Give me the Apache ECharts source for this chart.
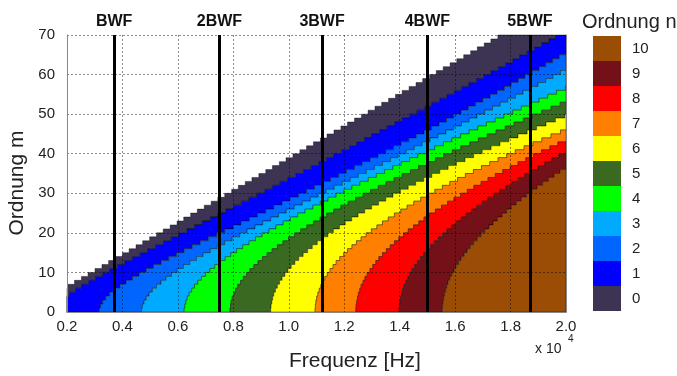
<!DOCTYPE html>
<html>
<head>
<meta charset="utf-8">
<script src="https://cdn.jsdelivr.net/npm/echarts@6/dist/echarts.min.js"></script>
<style>
  html, body { margin: 0; padding: 0; background: #fff; }
  #chart { width: 677px; height: 376px; }
</style>
</head>
<body>
<div id="chart"></div>
<script>
// cut-on frequency (x 10^4 Hz) of radial order n, one value per azimuthal row m = 0, 1, 2, ...
// rows whose cut-on lies beyond 2.0 are left out
const n0 = [0.000, 0.077, 0.104, 0.129, 0.153, 0.178, 0.202, 0.227, 0.252, 0.276, 0.301, 0.326, 0.350, 0.375, 0.400, 0.424, 0.449, 0.473, 0.498, 0.523, 0.547, 0.572, 0.597, 0.621, 0.646, 0.670, 0.695, 0.720, 0.744, 0.769, 0.794, 0.818, 0.843, 0.867, 0.892, 0.917, 0.941, 0.966, 0.990, 1.015, 1.040, 1.064, 1.089, 1.114, 1.138, 1.163, 1.188, 1.212, 1.237, 1.262, 1.286, 1.311, 1.335, 1.360, 1.385, 1.409, 1.434, 1.459, 1.483, 1.508, 1.532, 1.557, 1.582, 1.606, 1.631, 1.656, 1.680, 1.705, 1.729, 1.754];
const n1 = [0.161, 0.166, 0.177, 0.192, 0.210, 0.231, 0.254, 0.278, 0.303, 0.328, 0.355, 0.382, 0.409, 0.436, 0.464, 0.492, 0.520, 0.548, 0.576, 0.604, 0.632, 0.660, 0.688, 0.717, 0.745, 0.773, 0.801, 0.829, 0.857, 0.885, 0.913, 0.941, 0.969, 0.997, 1.025, 1.053, 1.081, 1.108, 1.136, 1.163, 1.191, 1.219, 1.246, 1.273, 1.300, 1.328, 1.355, 1.382, 1.409, 1.436, 1.463, 1.490, 1.517, 1.544, 1.570, 1.597, 1.624, 1.650, 1.677, 1.703, 1.729, 1.756, 1.782, 1.808, 1.834, 1.860, 1.886, 1.912, 1.938, 1.963];
const n2 = [0.317, 0.321, 0.329, 0.340, 0.354, 0.372, 0.391, 0.413, 0.436, 0.460, 0.486, 0.512, 0.539, 0.567, 0.595, 0.623, 0.652, 0.681, 0.710, 0.740, 0.769, 0.799, 0.828, 0.858, 0.887, 0.917, 0.946, 0.976, 1.005, 1.035, 1.064, 1.093, 1.122, 1.151, 1.180, 1.208, 1.237, 1.265, 1.294, 1.322, 1.350, 1.378, 1.405, 1.433, 1.460, 1.488, 1.515, 1.542, 1.569, 1.595, 1.622, 1.648, 1.674, 1.700, 1.726, 1.752, 1.778, 1.803, 1.828, 1.853, 1.878, 1.903, 1.927, 1.952, 1.976];
const n3 = [0.469, 0.472, 0.478, 0.486, 0.496, 0.508, 0.523, 0.539, 0.557, 0.577, 0.598, 0.620, 0.643, 0.667, 0.691, 0.717, 0.742, 0.769, 0.796, 0.823, 0.850, 0.878, 0.906, 0.935, 0.963, 0.991, 1.020, 1.049, 1.078, 1.106, 1.135, 1.164, 1.193, 1.222, 1.251, 1.280, 1.309, 1.338, 1.367, 1.395, 1.424, 1.453, 1.481, 1.510, 1.538, 1.567, 1.595, 1.623, 1.651, 1.679, 1.707, 1.735, 1.763, 1.790, 1.818, 1.845, 1.872, 1.899, 1.927, 1.954, 1.980];
const n4 = [0.623, 0.625, 0.629, 0.634, 0.641, 0.650, 0.660, 0.672, 0.685, 0.700, 0.716, 0.733, 0.751, 0.771, 0.791, 0.812, 0.834, 0.857, 0.880, 0.904, 0.929, 0.954, 0.980, 1.006, 1.032, 1.059, 1.087, 1.114, 1.142, 1.171, 1.199, 1.228, 1.257, 1.287, 1.316, 1.346, 1.376, 1.406, 1.436, 1.466, 1.497, 1.527, 1.558, 1.589, 1.620, 1.651, 1.682, 1.713, 1.745, 1.776, 1.808, 1.839, 1.871, 1.903, 1.934, 1.966, 1.998];
const n5 = [0.788, 0.790, 0.792, 0.796, 0.802, 0.808, 0.816, 0.826, 0.836, 0.848, 0.860, 0.874, 0.889, 0.905, 0.922, 0.940, 0.959, 0.979, 0.999, 1.021, 1.043, 1.065, 1.089, 1.113, 1.137, 1.162, 1.188, 1.214, 1.241, 1.268, 1.295, 1.323, 1.351, 1.380, 1.409, 1.439, 1.468, 1.498, 1.529, 1.559, 1.590, 1.621, 1.653, 1.684, 1.716, 1.748, 1.781, 1.813, 1.846, 1.879, 1.912, 1.946, 1.979];
const n6 = [0.935, 0.936, 0.939, 0.942, 0.946, 0.952, 0.959, 0.967, 0.976, 0.986, 0.997, 1.009, 1.022, 1.036, 1.052, 1.068, 1.085, 1.103, 1.121, 1.141, 1.161, 1.183, 1.204, 1.227, 1.250, 1.274, 1.299, 1.324, 1.350, 1.376, 1.403, 1.431, 1.458, 1.487, 1.516, 1.545, 1.575, 1.605, 1.636, 1.667, 1.698, 1.730, 1.762, 1.794, 1.827, 1.860, 1.894, 1.928, 1.962, 1.996];
const n7 = [1.095, 1.096, 1.098, 1.101, 1.105, 1.110, 1.116, 1.122, 1.130, 1.139, 1.149, 1.160, 1.171, 1.184, 1.198, 1.212, 1.228, 1.244, 1.261, 1.279, 1.298, 1.318, 1.338, 1.359, 1.381, 1.404, 1.427, 1.451, 1.476, 1.501, 1.527, 1.554, 1.581, 1.609, 1.637, 1.666, 1.695, 1.725, 1.755, 1.786, 1.817, 1.849, 1.881, 1.913, 1.946, 1.980];
const n8 = [1.242, 1.243, 1.245, 1.248, 1.251, 1.256, 1.261, 1.268, 1.275, 1.283, 1.293, 1.303, 1.314, 1.325, 1.338, 1.352, 1.366, 1.381, 1.397, 1.414, 1.431, 1.450, 1.469, 1.488, 1.508, 1.529, 1.551, 1.573, 1.596, 1.620, 1.644, 1.668, 1.694, 1.719, 1.745, 1.772, 1.799, 1.827, 1.855, 1.883, 1.912, 1.942, 1.971];
const n9 = [1.398, 1.399, 1.401, 1.403, 1.407, 1.411, 1.416, 1.422, 1.429, 1.436, 1.445, 1.454, 1.464, 1.475, 1.486, 1.499, 1.512, 1.525, 1.540, 1.555, 1.570, 1.587, 1.604, 1.622, 1.640, 1.659, 1.678, 1.698, 1.718, 1.739, 1.761, 1.783, 1.805, 1.828, 1.851, 1.875, 1.899, 1.924, 1.949, 1.974];
const n10 = [1.554, 1.555, 1.556, 1.559, 1.562, 1.566, 1.570, 1.575, 1.581, 1.588, 1.596, 1.604, 1.613, 1.622, 1.633, 1.643, 1.655, 1.667, 1.680, 1.693, 1.707, 1.722, 1.737, 1.753, 1.769, 1.786, 1.803, 1.821, 1.839, 1.858, 1.877, 1.896, 1.916, 1.937, 1.957, 1.979];

const cutOn = [n0, n1, n2, n3, n4, n5, n6, n7, n8, n9, n10];
const orderColors = ['#3d3454', '#0000ff', '#0066ff', '#00aaff', '#00ff00', '#3a6a22',
                     '#ffff00', '#ff8000', '#ff0000', '#731018', '#9b4c05'];

// blade passing frequency and harmonics (x 10^4 Hz)
const bwfNames = ['BWF', '2BWF', '3BWF', '4BWF', '5BWF'];
const bwfFreq = [0.371, 0.749, 1.121, 1.495, 1.868];

const F_MIN = 0.2, F_MAX = 2.0, M_MAX = 70;
const FONT = '"Liberation Sans", Arial, sans-serif';

const chart = echarts.init(document.getElementById('chart'));

const clampF = (f) => Math.min(F_MAX, Math.max(F_MIN, f));

// one staircase polygon per order n: left edge = cut-on of n, right edge = cut-on of n+1
function renderRegion(params, api) {
  const k = api.value(0);
  const left = cutOn[k];
  const right = cutOn[k + 1] || [];
  const rows = Math.min(left.length, M_MAX);
  const pts = [];
  for (let m = 0; m < rows; m++) {
    const x = clampF(left[m]);
    pts.push(api.coord([x, m]), api.coord([x, m + 1]));
  }
  for (let m = rows - 1; m >= 0; m--) {
    const x = clampF(right[m] != null ? right[m] : F_MAX);
    pts.push(api.coord([x, m + 1]), api.coord([x, m]));
  }
  return {
    type: 'polygon',
    shape: { points: pts },
    style: { fill: api.visual('color'), stroke: 'rgba(0,0,0,0.55)', lineWidth: 0.7 }
  };
}

const gridLine = { show: true, lineStyle: { color: 'rgba(0,0,0,0.45)', width: 1, type: [2, 2] } };
const frameLine = { show: true, lineStyle: { color: '#888', width: 1 } };

const option = {
  animation: false,
  textStyle: { fontFamily: FONT },
  title: {
    text: 'Ordnung n', left: 577, top: 7,
    textStyle: { fontFamily: FONT, fontSize: 20, fontWeight: 'normal', color: '#222' }
  },
  grid: { left: 67, top: 35, width: 499, height: 277 },
  xAxis: [{
    type: 'value', min: F_MIN, max: F_MAX, interval: 0.2, z: 10,
    axisLine: frameLine, axisTick: { show: false },
    axisLabel: { formatter: (v) => v.toFixed(1), fontSize: 15, color: '#222', margin: 7 },
    splitLine: gridLine
  }, {
    type: 'value', position: 'top', min: F_MIN, max: F_MAX, z: 10,
    axisLine: frameLine, axisTick: { show: false }, axisLabel: { show: false }, splitLine: { show: false }
  }],
  yAxis: [{
    type: 'value', min: 0, max: M_MAX, interval: 10, z: 10,
    axisLine: frameLine, axisTick: { show: false },
    axisLabel: { fontSize: 15, color: '#222', margin: 12 },
    splitLine: gridLine
  }, {
    type: 'value', position: 'right', min: 0, max: M_MAX, z: 10,
    axisLine: frameLine, axisTick: { show: false }, axisLabel: { show: false }, splitLine: { show: false }
  }],
  visualMap: {
    type: 'piecewise', dimension: 0, seriesIndex: 0,
    orient: 'vertical', align: 'left', left: 593, top: 36, padding: 0,
    itemWidth: 28, itemHeight: 25, itemGap: 0, textGap: 11,
    itemSymbol: 'rect', selectedMode: false, hoverLink: false,
    textStyle: { fontSize: 15, color: '#222', fontFamily: FONT },
    pieces: orderColors.map((c, i) => ({ value: i, label: String(i), color: c }))
  },
  graphic: [
    { type: 'text', left: 289, top: 351, style: { text: 'Frequenz [Hz]', fontSize: 21, fill: '#222', fontFamily: FONT } },
    { type: 'text', x: 17, y: 183, rotation: Math.PI / 2,
      style: { text: 'Ordnung m', fontSize: 21, fill: '#222', fontFamily: FONT, textAlign: 'center', textVerticalAlign: 'middle' } },
    { type: 'text', left: 535, top: 342, style: { text: 'x 10', fontSize: 14, fill: '#222', fontFamily: FONT } },
    { type: 'text', left: 568, top: 334, style: { text: '4', fontSize: 10, fill: '#222', fontFamily: FONT } }
  ],
  series: [{
    type: 'custom',
    coordinateSystem: 'cartesian2d',
    silent: true,
    z: 2,
    renderItem: renderRegion,
    data: cutOn.map((_, k) => [k])
  }, {
    type: 'line',
    data: [],
    z: 5,
    silent: true,
    markLine: {
      silent: true,
      symbol: 'none',
      animation: false,
      lineStyle: { color: '#000', width: 3, type: 'solid' },
      label: {
        show: true, position: 'end', distance: 5, formatter: '{b}',
        fontFamily: FONT, fontSize: 16, fontWeight: 'bold', color: '#111'
      },
      data: bwfFreq.map((f, i) => ({ xAxis: f, name: bwfNames[i] }))
    }
  }]
};

chart.setOption(option);
window.addEventListener('resize', () => chart.resize());
</script>
</body>
</html>
